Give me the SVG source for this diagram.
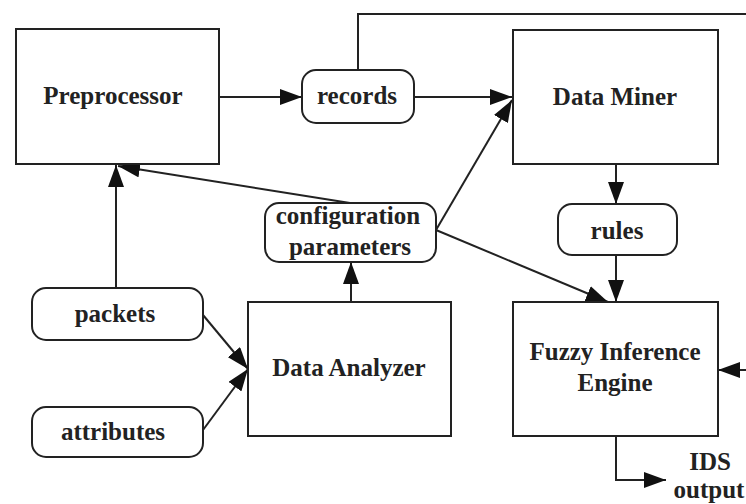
<svg xmlns="http://www.w3.org/2000/svg" width="746" height="504" viewBox="0 0 746 504">
<defs>
<style>
.box{fill:#fff;stroke:#222;stroke-width:2}
.t{font-family:"Liberation Serif","Times New Roman",serif;font-weight:bold;font-size:25px;fill:#222;text-anchor:middle}
.c{fill:none;stroke:#222;stroke-width:2}
</style>
<marker id="ah" markerUnits="userSpaceOnUse" markerWidth="22" markerHeight="16" refX="22" refY="8" orient="auto">
<path d="M0,0 L22,8 L0,16 z" fill="#111"/>
</marker>
</defs>
<rect width="746" height="504" fill="#fff"/>
<g id="connectors">
<line class="c" x1="219" y1="97" x2="302" y2="97" marker-end="url(#ah)"/>
<line class="c" x1="414" y1="97" x2="512" y2="97" marker-end="url(#ah)"/>
<polyline class="c" points="358,70 358,14 746,14"/>
<line class="c" x1="616" y1="164" x2="616" y2="204" marker-end="url(#ah)"/>
<line class="c" x1="616" y1="255" x2="616" y2="302" marker-end="url(#ah)"/>
<line class="c" x1="350" y1="203" x2="118" y2="166" marker-end="url(#ah)"/>
<line class="c" x1="116" y1="288" x2="116" y2="165" marker-end="url(#ah)"/>
<line class="c" x1="351" y1="302" x2="351" y2="262" marker-end="url(#ah)"/>
<line class="c" x1="203" y1="315" x2="248" y2="369" marker-end="url(#ah)"/>
<line class="c" x1="203" y1="430" x2="248" y2="369" marker-end="url(#ah)"/>
<line class="c" x1="436" y1="230" x2="512" y2="100" marker-end="url(#ah)"/>
<line class="c" x1="436" y1="230" x2="608" y2="302" marker-end="url(#ah)"/>
<line class="c" x1="746" y1="370" x2="718" y2="370" marker-end="url(#ah)"/>
<polyline class="c" points="616,436 616,480 666,480" marker-end="url(#ah)"/>
</g>
<g id="preprocessor">
<rect class="box" x="16" y="29" width="203" height="135"/>
<text class="t" x="113" y="104">Preprocessor</text>
</g>
<g id="records">
<rect class="box" x="302" y="70" width="112" height="53" rx="14"/>
<text class="t" x="357" y="104">records</text>
</g>
<g id="data-miner">
<rect class="box" x="513" y="30" width="205" height="134"/>
<text class="t" x="615" y="105">Data Miner</text>
</g>
<g id="rules">
<rect class="box" x="558" y="204" width="119" height="51" rx="14"/>
<text class="t" x="617" y="239">rules</text>
</g>
<g id="config-parameters">
<rect class="box" x="265" y="203" width="171" height="59" rx="14"/>
<text class="t" x="348" y="224">configuration</text>
<text class="t" x="350" y="255">parameters</text>
</g>
<g id="packets">
<rect class="box" x="32" y="288" width="171" height="52" rx="14"/>
<text class="t" x="115" y="322">packets</text>
</g>
<g id="attributes">
<rect class="box" x="32" y="407" width="171" height="50" rx="14"/>
<text class="t" x="113" y="440">attributes</text>
</g>
<g id="data-analyzer">
<rect class="box" x="248" y="302" width="203" height="134"/>
<text class="t" x="349" y="376">Data Analyzer</text>
</g>
<g id="fuzzy-inference-engine">
<rect class="box" x="513" y="302" width="205" height="134"/>
<text class="t" x="615" y="360">Fuzzy Inference</text>
<text class="t" x="615" y="391">Engine</text>
</g>
<g id="ids-output">
<text class="t" x="710" y="470">IDS</text>
<text class="t" x="709" y="498">output</text>
</g>
</svg>
